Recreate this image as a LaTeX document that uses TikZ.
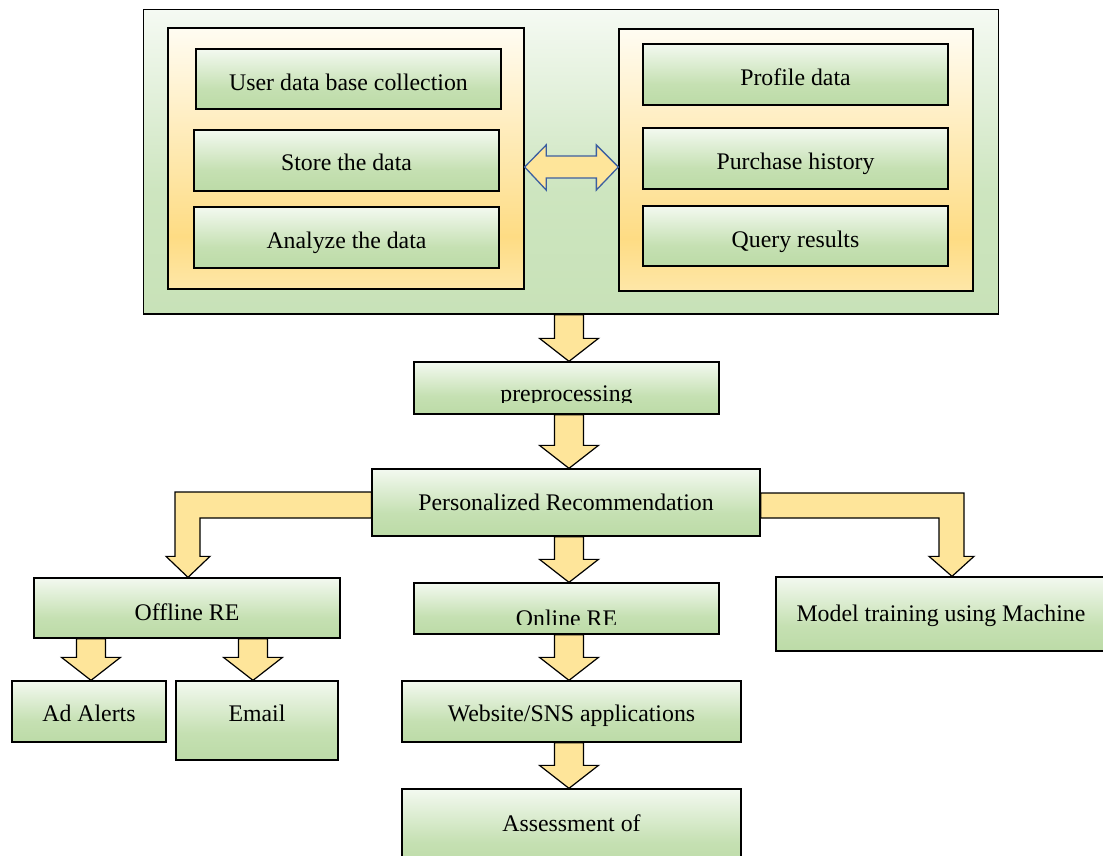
\documentclass[tikz,border=0pt]{standalone}
\usepackage{fontspec}
\setmainfont{Liberation Serif}
\usetikzlibrary{calc}
\definecolor{gb}{HTML}{BCDBA7}
\definecolor{gm}{HTML}{C5E0B2}
\definecolor{gt}{HTML}{F3F9F0}
\definecolor{ob}{HTML}{C8E2B8}
\definecolor{om}{HTML}{CDE5BF}
\definecolor{ot}{HTML}{F5FAF3}
\definecolor{yb}{HTML}{FEE7A8}
\definecolor{ym}{HTML}{FEDC84}
\definecolor{yt}{HTML}{FFFCF2}
\definecolor{arrowgold}{HTML}{FEE59A}
\definecolor{dblue}{HTML}{3C5FA0}
\pgfdeclareverticalshading{gsh}{100bp}{color(0bp)=(gb); color(25bp)=(gb); color(42bp)=(gm); color(75bp)=(gt); color(100bp)=(gt)}
\pgfdeclareverticalshading{osh}{100bp}{color(0bp)=(ob); color(25bp)=(ob); color(45bp)=(om); color(75bp)=(ot); color(100bp)=(ot)}
\pgfdeclareverticalshading{ysh}{100bp}{color(0bp)=(yb); color(25bp)=(yb); color(35bp)=(ym); color(75bp)=(yt); color(100bp)=(yt)}
\newcommand{\blkdown}[3]{%
  \draw[blk] let \p1=(#1.south), \p2=([xshift=#3]#2.north) in
  (\x2-14.5pt,\y1) -- (\x2+14.5pt,\y1) -- (\x2+14.5pt,\y2+23pt) -- (\x2+29.5pt,\y2+23pt)
  -- (\x2,\y2) -- (\x2-29.5pt,\y2+23pt) -- (\x2-14.5pt,\y2+23pt) -- cycle;}
\begin{document}
\begin{tikzpicture}[x=1pt,y=-1pt,
  gbox/.style={rectangle, draw=black, line width=1.3pt, shading=gsh, inner sep=0pt},
  obox/.style={rectangle, draw=black, line width=1.3pt, shading=osh, inner sep=0pt},
  ybox/.style={rectangle, draw=black, line width=1.3pt, shading=ysh, inner sep=0pt},
  txt/.style={anchor=base, inner sep=0pt, font=\fontsize{23.8}{28}\selectfont},
  blk/.style={draw=black, line width=1.2pt, fill=arrowgold, line join=miter},
  dblk/.style={draw=dblue, line width=1.3pt, fill=arrowgold, line join=miter}]
\useasboundingbox (0,0) rectangle (1103,856);
% top block
\node[obox, minimum width=855pt, minimum height=304.5pt] (outer) at (571,161.75) {};
\node[ybox, minimum width=356pt, minimum height=261pt] (leftg) at (346,158.5) {};
\node[ybox, minimum width=354pt, minimum height=262pt] (rightg) at (796,160) {};
\node[gbox, minimum width=305pt, minimum height=60pt] (user) at (348.5,79) {};
\node[gbox, minimum width=305pt, minimum height=61pt] (store) at (346.5,160.5) {};
\node[gbox, minimum width=305pt, minimum height=61pt] (analyze) at (346.5,237.5) {};
\node[gbox, minimum width=305pt, minimum height=61pt] (profile) at (795.5,74.5) {};
\node[gbox, minimum width=305pt, minimum height=61pt] (purchase) at (795.5,158.5) {};
\node[gbox, minimum width=305pt, minimum height=60pt] (query) at (795.5,236) {};
\node[txt] (tuser) at (348.5,91) {User data base collection};
\node[txt] (tstore) at (346.5,171) {Store the data};
\node[txt] (tanalyze) at (346.5,248) {Analyze the data};
\node[txt] (tprofile) at (795.5,86) {Profile data};
\node[txt] (tpurchase) at (795.5,170) {Purchase history};
\node[txt] (tquery) at (795.5,247) {Query results};
% lower boxes
\node[gbox, minimum width=305pt, minimum height=52pt] (pre) at (566.5,388) {};
\node[gbox, minimum width=388pt, minimum height=67pt] (pers) at (566,502.5) {};
\node[gbox, minimum width=306pt, minimum height=60pt] (offline) at (187,608) {};
\node[gbox, minimum width=154pt, minimum height=61pt] (adalerts) at (89,711.5) {};
\node[gbox, minimum width=162pt, minimum height=79pt] (email) at (257,720.5) {};
\node[gbox, minimum width=305pt, minimum height=51pt] (online) at (566.5,608.5) {};
\node[gbox, minimum width=339pt, minimum height=61pt] (website) at (571.5,711.5) {};
\node[gbox, minimum width=339pt, minimum height=81pt] (assess) at (571.5,829.5) {};
\node[gbox, minimum width=334pt, minimum height=74pt] (model) at (943,614) {};
\begin{scope}
  \clip (414,362) rectangle (719,402.5);
  \node[txt] (tpre) at (566.5,401.5) {preprocessing};
\end{scope}
\node[txt] (tpers) at (566,510.5) {Personalized Recommendation};
\node[txt] (toffline) at (187,620) {Offline RE};
\node[txt] (tad) at (89,721.5) {Ad Alerts};
\node[txt] (temail) at (257,721.5) {Email};
\begin{scope}
  \clip (414,583) rectangle (719,624.5);
  \node[txt] (tonline) at (566.5,626.5) {Online RE};
\end{scope}
\node[txt] (twebsite) at (571.5,721.5) {Website/SNS applications};
\node[txt] (tassess) at (571.5,831.5) {Assessment of};
\node[txt] (tmodel) at (941,621.5) {Model training using Machine};
% double arrow
\draw[dblk] let \p1=(leftg.east), \p2=(rightg.west) in
  (\x1,\y1-8.5pt) -- (\x1+21.5pt,\y1+13.5pt) -- (\x1+21.5pt,\y1+2.5pt) -- (\x2-22pt,\y1+2.5pt)
  -- (\x2-22pt,\y1+13.5pt) -- (\x2,\y1-8.5pt) -- (\x2-22pt,\y1-31.5pt) -- (\x2-22pt,\y1-19.5pt)
  -- (\x1+21.5pt,\y1-19.5pt) -- (\x1+21.5pt,\y1-31.5pt) -- cycle;
% straight block arrows
\blkdown{outer}{pre}{2.5pt}
\blkdown{pre}{pers}{3pt}
\blkdown{pers}{online}{2.5pt}
\blkdown{online}{website}{-2.5pt}
\blkdown{website}{assess}{-2.5pt}
\blkdown{offline}{adalerts}{2pt}
\blkdown{offline}{email}{-4pt}
% bent block arrows
\draw[blk] let \p1=(pers.west), \p2=([xshift=1pt]offline.north) in
  (\x1,\y1+10.5pt) -- (\x2-13pt,\y1+10.5pt) -- (\x2-13pt,\y2+21pt) -- (\x2-22pt,\y2+21pt)
  -- (\x2,\y2) -- (\x2+22pt,\y2+21pt) -- (\x2+12pt,\y2+21pt) -- (\x2+12pt,\y1-15.5pt)
  -- (\x1,\y1-15.5pt) -- cycle;
\draw[blk] let \p1=(pers.east), \p2=([xshift=9pt]model.north) in
  (\x1,\y1+9.5pt) -- (\x2+12pt,\y1+9.5pt) -- (\x2+12pt,\y2+20pt) -- (\x2+22pt,\y2+20pt)
  -- (\x2,\y2) -- (\x2-23pt,\y2+20pt) -- (\x2-13pt,\y2+20pt) -- (\x2-13pt,\y1-15.5pt)
  -- (\x1,\y1-15.5pt) -- cycle;
\end{tikzpicture}
\end{document}
